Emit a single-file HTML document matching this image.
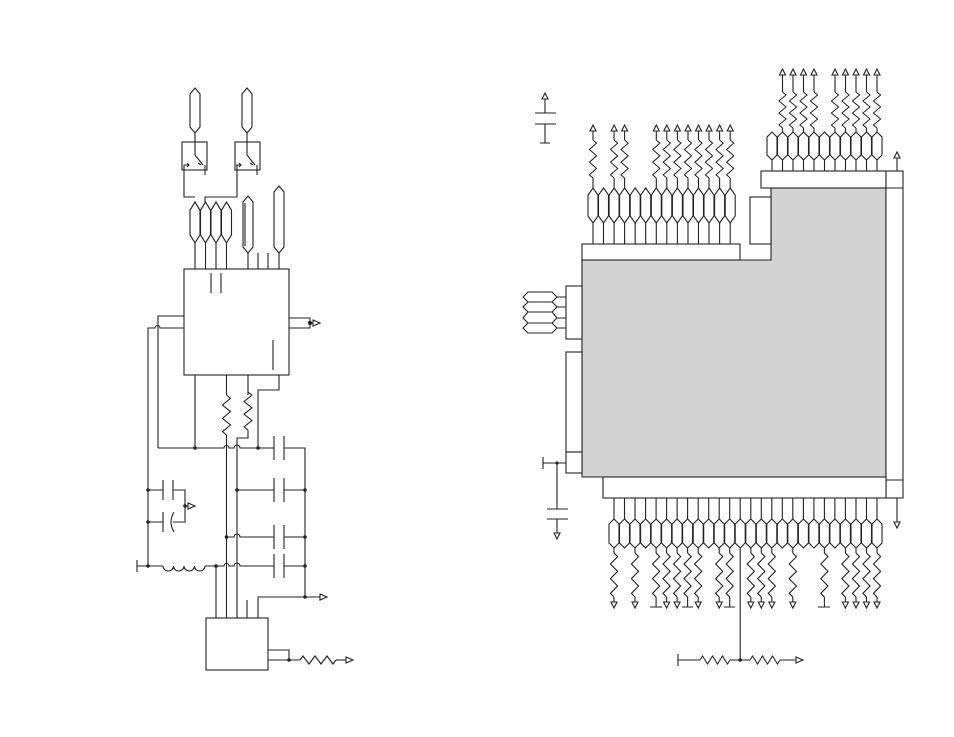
<!DOCTYPE html>
<html><head><meta charset="utf-8"><style>html,body{margin:0;padding:0;background:#fff}svg{display:block}</style></head>
<body>
<svg width="954" height="737" viewBox="0 0 954 737" xmlns="http://www.w3.org/2000/svg" fill="none" stroke="#222" stroke-width="1.1">
<defs>
<path id="zz" d="M0 0 l4 3.33 l-8 6.67 l8 6.67 l-8 6.67 l8 6.67 l-8 6.67 l4 3.33"/>
<path id="zh" d="M0 0 l2.5 -4 l5 8 l5 -8 l5 8 l5 -8 l5 8 l2.5 -4"/>
<path id="au" d="M-3 0 L0 -6 L3 0 Z" fill="#fff"/>
<path id="ad" d="M-3 0 L0 6 L3 0 Z" fill="#fff"/>
<path id="ar" d="M0 -3 L7 0 L0 3 Z" fill="#fff"/>
<path id="h35" d="M0 0 L5 7 L5 28 L0 35 L-5 28 L-5 7 Z" fill="#fff"/>
<path id="h28" d="M0 0 L5 5 L5 23 L0 28 L-5 23 L-5 5 Z" fill="#fff"/>
<path id="h29" d="M0 0 L5 5 L5 24 L0 29 L-5 24 L-5 5 Z" fill="#fff"/>
</defs>

<path d="M195 88 L200 94 L200 127 L195 133 L190 127 L190 94 Z"/>
<path d="M247 88 L252 94 L252 127 L247 133 L242 127 L242 94 Z"/>
<rect x="182" y="142" width="25" height="28"/>
<rect x="235" y="142" width="25" height="28"/>
<path d="M195 133 V155 L203 165 M205 165 V175 M184 165 H189 M187 163 L189 165 L187 167 M198 163 L201 165"/>
<path d="M247 133 V155 L255 165 M257 165 V175 M236 165 H241 M239 163 L241 165 L239 167 M250 163 L253 165"/>
<path d="M184 165 V197 H195 M205 202 V197 H237 V165"/>
<use href="#h35" transform="translate(195,202) scale(1,1.17)"/>
<use href="#h35" transform="translate(205.5,202) scale(1,1.17)"/>
<use href="#h35" transform="translate(216,202) scale(1,1.17)"/>
<use href="#h35" transform="translate(226.5,202) scale(1,1.17)"/>
<path d="M248 196 L253 202 L253 247 L248 253 L243 247 L243 202 Z M245 203 V246"/>
<path d="M279 186 L284 192 L284 247 L279 253 L274 247 L274 192 Z"/>
<path d="M195 243 V269 M205.5 243 V269 M216 243 V269 M226.5 243 V269 M248 253 V269 M258 253 V269 M268 253 V269 M279 253 V269"/>
<rect x="184" y="269" width="105" height="106"/>
<path d="M211 273 V293 M221 273 V293 M273 340 V370"/>
<path d="M289 318 H310 V328 H289 M310 323 H313"/>
<circle cx="310" cy="323" r="1.6" fill="#222"/>
<use href="#ar" x="313" y="323"/>
<path d="M184 316 H158 V448 M184 328 H160 A2.5 2.5 0 0 0 155 328 H148 V566"/>
<path d="M195 375 V448 M226.5 375 V395 M226.5 435 V618 M248 375 V395 M248 430 V438 H237 V618 M279 375 V390 H258 V448"/>
<use href="#zz" transform="translate(226.5,395) scale(1,1)"/>
<use href="#zz" transform="translate(248,392) scale(1,0.95)"/>
<path d="M158 448 H224 A2.5 2.5 0 0 1 229 448 H234 A2.5 2.5 0 0 1 240 448 H274 M284 448 H305 V597"/>
<path d="M274 436 V460 M284 436 V460"/>
<path d="M237 490 H274 M284 490 H305 M274 478 V502 M284 478 V502"/>
<path d="M226.5 537 H234 A2.5 2.5 0 0 1 240 537 H274 M284 537 H305 M274 525 V549 M284 525 V549"/>
<path d="M137 560 V572 M137 566 H163 M205 566 H224 A2.5 2.5 0 0 1 229 566 H234 A2.5 2.5 0 0 1 240 566 H274 M284 566 H305 M274 554 V578 M284 554 V578"/>
<path d="M163 566 a5.25 5 0 0 0 10.5 0 a5.25 5 0 0 0 10.5 0 a5.25 5 0 0 0 10.5 0 a5.25 5 0 0 0 10.5 0"/>
<path d="M216 566 V618"/>
<path d="M258 618 V597 H320 M247 618 V600"/>
<use href="#ar" x="320" y="597"/>
<path d="M148 490 H163 M163 480 V500 M173 480 V500 M173 490 H185 V522 H173 M148 522 H163 M163 512 V532 M174 512 Q168 522 174 532 M185 506 H188"/>
<use href="#ar" x="188" y="506"/>
<g fill="#222" stroke="none">
<circle cx="195" cy="448" r="1.8"/><circle cx="258" cy="448" r="1.8"/>
<circle cx="237" cy="490" r="1.8"/><circle cx="305" cy="490" r="1.8"/>
<circle cx="226.5" cy="537" r="1.8"/><circle cx="305" cy="537" r="1.8"/>
<circle cx="216" cy="566" r="1.8"/><circle cx="305" cy="566" r="1.8"/><circle cx="148" cy="566" r="1.8"/>
<circle cx="305" cy="597" r="1.8"/><circle cx="148" cy="490" r="1.8"/><circle cx="148" cy="522" r="1.8"/>
<circle cx="185" cy="506" r="1.8"/><circle cx="289" cy="660" r="1.8"/>
</g>
<rect x="206" y="618" width="62" height="52"/>
<path d="M268 650 H289 V660 M268 660 H300"/>
<use href="#zh" transform="translate(300,660) scale(1.2,1)"/>
<path d="M336 660 H346"/>
<use href="#ar" x="346" y="660"/>

<use href="#au" x="545" y="99"/>
<path d="M545 99 V113 M535 113 H556 M535 124 H556 M545 124 V143 M540 143 H550"/>
<path d="M582 260 H771 V188 H886 V477 H582 Z" fill="#d3d3d3"/>
<rect x="582" y="244" width="158" height="16" fill="#fff"/>
<path d="M740 260 H771"/>
<rect x="750" y="197" width="21" height="47" fill="#fff"/>
<rect x="761" y="171" width="125" height="17" fill="#fff"/>
<rect x="886" y="171" width="17" height="327" fill="#fff"/>
<path d="M886 188 H903 M886 480 H903"/>
<rect x="603" y="477" width="283" height="21" fill="#fff"/>
<rect x="566" y="286" width="16" height="53" fill="#fff"/>
<rect x="566" y="352" width="16" height="100" fill="#fff"/>
<rect x="566" y="452" width="16" height="21" fill="#fff"/>
<path d="M897 171 V158 M897 498 V522"/>
<use href="#au" x="897" y="158"/>
<use href="#ad" x="897" y="522"/>
<path d="M528 292 L552 292 L557 297 L552 302 L528 302 L523 297 Z M528 302 L552 302 L557 307 L552 312 L528 312 L523 307 Z M528 312 L552 312 L557 318 L552 323 L528 323 L523 318 Z M528 323 L552 323 L557 328 L552 333 L528 333 L523 328 Z" fill="#fff"/>
<path d="M557 297 H566 M557 307 H566 M557 318 H566 M557 328 H566"/>
<path d="M543 457 V469 M543 463 H566 M557 463 V509 M547 509 H568 M547 519 H568 M557 519 V533"/>
<circle cx="557" cy="463" r="1.6" fill="#222" stroke="none"/>
<use href="#ad" x="557" y="533"/>

<g>
<path d="M593 223V244M603.5 223V244M614.1 223V244M624.6 223V244M635.2 223V244M645.7 223V244M656.3 223V244M666.8 223V244M677.4 223V244M688 223V244M698.5 223V244M709 223V244M719.6 223V244M730.2 223V244"/>
<use href="#h35" x="593" y="188"/><use href="#h35" x="603.5" y="188"/><use href="#h35" x="614.1" y="188"/><use href="#h35" x="624.6" y="188"/><use href="#h35" x="635.2" y="188"/><use href="#h35" x="645.7" y="188"/><use href="#h35" x="656.3" y="188"/><use href="#h35" x="666.8" y="188"/><use href="#h35" x="677.4" y="188"/><use href="#h35" x="688" y="188"/><use href="#h35" x="698.5" y="188"/><use href="#h35" x="709" y="188"/><use href="#h35" x="719.6" y="188"/><use href="#h35" x="730.2" y="188"/>
<path d="M593 131V140M593 178V188M614.1 131V140M614.1 178V188M624.6 131V140M624.6 178V188M656.3 131V140M656.3 178V188M666.8 131V140M666.8 178V188M677.4 131V140M677.4 178V188M688 131V140M688 178V188M698.5 131V140M698.5 178V188M709 131V140M709 178V188M719.6 131V140M719.6 178V188M730.2 131V140M730.2 178V188"/>
<g transform="translate(0,140)">
<use href="#zz" transform="translate(593,0) scale(0.9,0.95)"/><use href="#zz" transform="translate(614.1,0) scale(0.9,0.95)"/><use href="#zz" transform="translate(624.6,0) scale(0.9,0.95)"/><use href="#zz" transform="translate(656.3,0) scale(0.9,0.95)"/><use href="#zz" transform="translate(666.8,0) scale(0.9,0.95)"/><use href="#zz" transform="translate(677.4,0) scale(0.9,0.95)"/><use href="#zz" transform="translate(688,0) scale(0.9,0.95)"/><use href="#zz" transform="translate(698.5,0) scale(0.9,0.95)"/><use href="#zz" transform="translate(709,0) scale(0.9,0.95)"/><use href="#zz" transform="translate(719.6,0) scale(0.9,0.95)"/><use href="#zz" transform="translate(730.2,0) scale(0.9,0.95)"/>
</g>
<use href="#au" x="593" y="131"/><use href="#au" x="614.1" y="131"/><use href="#au" x="624.6" y="131"/><use href="#au" x="656.3" y="131"/><use href="#au" x="666.8" y="131"/><use href="#au" x="677.4" y="131"/><use href="#au" x="688" y="131"/><use href="#au" x="698.5" y="131"/><use href="#au" x="709" y="131"/><use href="#au" x="719.6" y="131"/><use href="#au" x="730.2" y="131"/>
</g>

<g>
<path d="M772 160V171M782.5 160V171M793 160V171M803.5 160V171M814 160V171M824.5 160V171M835 160V171M845.5 160V171M856 160V171M866.5 160V171M877 160V171"/>
<use href="#h28" x="772" y="132"/><use href="#h28" x="782.5" y="132"/><use href="#h28" x="793" y="132"/><use href="#h28" x="803.5" y="132"/><use href="#h28" x="814" y="132"/><use href="#h28" x="824.5" y="132"/><use href="#h28" x="835" y="132"/><use href="#h28" x="845.5" y="132"/><use href="#h28" x="856" y="132"/><use href="#h28" x="866.5" y="132"/><use href="#h28" x="877" y="132"/>
<path d="M782.5 75V92M782.5 128V132M793 75V92M793 128V132M803.5 75V92M803.5 128V132M814 75V92M814 128V132M835 75V92M835 128V132M845.5 75V92M845.5 128V132M856 75V92M856 128V132M866.5 75V92M866.5 128V132M877 75V92M877 128V132"/>
<g transform="translate(0,92)">
<use href="#zz" transform="translate(782.5,0) scale(0.9,0.9)"/><use href="#zz" transform="translate(793,0) scale(0.9,0.9)"/><use href="#zz" transform="translate(803.5,0) scale(0.9,0.9)"/><use href="#zz" transform="translate(814,0) scale(0.9,0.9)"/><use href="#zz" transform="translate(835,0) scale(0.9,0.9)"/><use href="#zz" transform="translate(845.5,0) scale(0.9,0.9)"/><use href="#zz" transform="translate(856,0) scale(0.9,0.9)"/><use href="#zz" transform="translate(866.5,0) scale(0.9,0.9)"/><use href="#zz" transform="translate(877,0) scale(0.9,0.9)"/>
</g>
<use href="#au" x="782.5" y="75"/><use href="#au" x="793" y="75"/><use href="#au" x="803.5" y="75"/><use href="#au" x="814" y="75"/><use href="#au" x="835" y="75"/><use href="#au" x="845.5" y="75"/><use href="#au" x="856" y="75"/><use href="#au" x="866.5" y="75"/><use href="#au" x="877" y="75"/>
</g>

<g>
<path d="M614 498V519M624.5 498V519M635 498V519M645.6 498V519M656.1 498V519M666.6 498V519M677.1 498V519M687.6 498V519M698.2 498V519M708.7 498V519M719.2 498V519M729.7 498V519M740.2 498V519M750.8 498V519M761.3 498V519M771.8 498V519M782.3 498V519M792.8 498V519M803.4 498V519M813.9 498V519M824.4 498V519M834.9 498V519M845.4 498V519M856 498V519M866.5 498V519M877 498V519"/>
<use href="#h29" x="614" y="519"/><use href="#h29" x="624.5" y="519"/><use href="#h29" x="635" y="519"/><use href="#h29" x="645.6" y="519"/><use href="#h29" x="656.1" y="519"/><use href="#h29" x="666.6" y="519"/><use href="#h29" x="677.1" y="519"/><use href="#h29" x="687.6" y="519"/><use href="#h29" x="698.2" y="519"/><use href="#h29" x="708.7" y="519"/><use href="#h29" x="719.2" y="519"/><use href="#h29" x="729.7" y="519"/><use href="#h29" x="740.2" y="519"/><use href="#h29" x="750.8" y="519"/><use href="#h29" x="761.3" y="519"/><use href="#h29" x="771.8" y="519"/><use href="#h29" x="782.3" y="519"/><use href="#h29" x="792.8" y="519"/><use href="#h29" x="803.4" y="519"/><use href="#h29" x="813.9" y="519"/><use href="#h29" x="824.4" y="519"/><use href="#h29" x="834.9" y="519"/><use href="#h29" x="845.4" y="519"/><use href="#h29" x="856" y="519"/><use href="#h29" x="866.5" y="519"/><use href="#h29" x="877" y="519"/>
<path d="M614 548V553M614 597V602M635 548V553M635 597V602M656.1 548V553M656.1 597V607M666.6 548V553M666.6 597V602M677.1 548V553M677.1 597V602M687.6 548V553M687.6 597V607M698.2 548V553M698.2 597V602M719.2 548V553M719.2 597V602M729.7 548V553M729.7 597V607M750.8 548V553M750.8 597V602M761.3 548V553M761.3 597V602M771.8 548V553M771.8 597V602M792.8 548V553M792.8 597V602M824.4 548V553M824.4 597V607M845.4 548V553M845.4 597V602M856 548V553M856 597V602M866.5 548V553M866.5 597V602M877 548V553M877 597V602"/>
<path d="M650 607H662M682 607H693M724 607H735M818 607H830"/>
<g transform="translate(0,553)">
<use href="#zz" transform="translate(614,0) scale(0.9,1.1)"/><use href="#zz" transform="translate(635,0) scale(0.9,1.1)"/><use href="#zz" transform="translate(656.1,0) scale(0.9,1.1)"/><use href="#zz" transform="translate(666.6,0) scale(0.9,1.1)"/><use href="#zz" transform="translate(677.1,0) scale(0.9,1.1)"/><use href="#zz" transform="translate(687.6,0) scale(0.9,1.1)"/><use href="#zz" transform="translate(698.2,0) scale(0.9,1.1)"/><use href="#zz" transform="translate(719.2,0) scale(0.9,1.1)"/><use href="#zz" transform="translate(729.7,0) scale(0.9,1.1)"/><use href="#zz" transform="translate(750.8,0) scale(0.9,1.1)"/><use href="#zz" transform="translate(761.3,0) scale(0.9,1.1)"/><use href="#zz" transform="translate(771.8,0) scale(0.9,1.1)"/><use href="#zz" transform="translate(792.8,0) scale(0.9,1.1)"/><use href="#zz" transform="translate(824.4,0) scale(0.9,1.1)"/><use href="#zz" transform="translate(845.4,0) scale(0.9,1.1)"/><use href="#zz" transform="translate(856,0) scale(0.9,1.1)"/><use href="#zz" transform="translate(866.5,0) scale(0.9,1.1)"/><use href="#zz" transform="translate(877,0) scale(0.9,1.1)"/>
</g>
<use href="#ad" x="614" y="602"/><use href="#ad" x="635" y="602"/><use href="#ad" x="666.6" y="602"/><use href="#ad" x="677.1" y="602"/><use href="#ad" x="698.2" y="602"/><use href="#ad" x="719.2" y="602"/><use href="#ad" x="750.8" y="602"/><use href="#ad" x="761.3" y="602"/><use href="#ad" x="771.8" y="602"/><use href="#ad" x="792.8" y="602"/><use href="#ad" x="845.4" y="602"/><use href="#ad" x="856" y="602"/><use href="#ad" x="866.5" y="602"/><use href="#ad" x="877" y="602"/>
<path d="M740.2 548V660 M678 654V666 M678 660H700 M730 660H750 M780 660H796"/>
<use href="#zh" x="700" y="660"/>
<use href="#zh" x="750" y="660"/>
<circle cx="740.2" cy="660" r="1.8" fill="#222" stroke="none"/>
<use href="#ar" x="796" y="660"/>
</g>
</svg>
</body></html>
